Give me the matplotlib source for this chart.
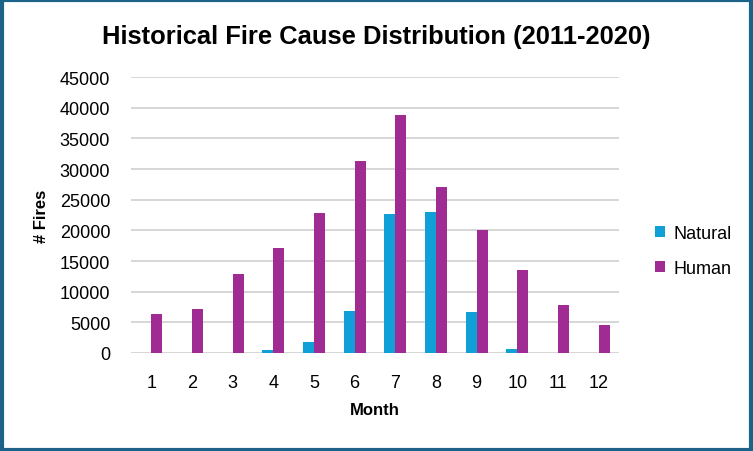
import numpy as np
import matplotlib
matplotlib.use("Agg")
import matplotlib.pyplot as plt
from matplotlib.patches import Rectangle

months = [1, 2, 3, 4, 5, 6, 7, 8, 9, 10, 11, 12]
natural = [0, 0, 0, 540, 1840, 6880, 22660, 22980, 6720, 700, 0, 0]
human = [6400, 7210, 12900, 17130, 22820, 31280, 38760, 27050, 20060, 13550, 7860, 4610]
yticks = [0, 5000, 10000, 15000, 20000, 25000, 30000, 35000, 40000, 45000]

plt.rcParams['font.family'] = ['Liberation Sans', 'DejaVu Sans']

fig = plt.figure(figsize=(7.53, 4.52), dpi=100)
ax = fig.add_axes([0.174, 0.217, 0.648, 0.61])

x = np.arange(len(months))
w = 0.27
ax.bar(x - w / 2, natural, w, color='#109FD6', label='Natural', zorder=3)
ax.bar(x + w / 2, human, w, color='#A02B93', label='Human', zorder=3)

ax.set_xlim(-0.5, len(months) - 0.5)
ax.set_ylim(0, 45000)
ax.set_yticks(yticks)
ax.set_xticks(x)
ax.set_xticklabels([str(m) for m in months])
ax.tick_params(axis='x', length=0, labelsize=13, colors='black', pad=15)
ax.tick_params(axis='y', length=0, labelsize=13, colors='black', pad=15)
ax.grid(axis='y', color='#D0D0D0', linewidth=1.2, zorder=0)
for s in ax.spines.values():
    s.set_visible(False)

ax.set_xlabel('Month', fontsize=12, fontweight='bold', labelpad=8)
ax.set_ylabel('# Fires', fontsize=12, fontweight='bold', labelpad=8)

fig.text(0.5, 0.918, 'Historical Fire Cause Distribution (2011-2020)',
         ha='center', va='center', fontsize=18.4, fontweight='bold')

leg = ax.legend(loc='center left', bbox_to_anchor=(1.04, 0.37), frameon=False,
                fontsize=13, handlelength=0.55, handleheight=0.55,
                labelspacing=1.0, handletextpad=0.5)

# outer border
fig.patches.append(Rectangle((0.002, 0.003), 0.996, 0.994, transform=fig.transFigure,
                             fill=False, edgecolor='#1B6388', linewidth=3))

fig.savefig('out.png', dpi=100)
